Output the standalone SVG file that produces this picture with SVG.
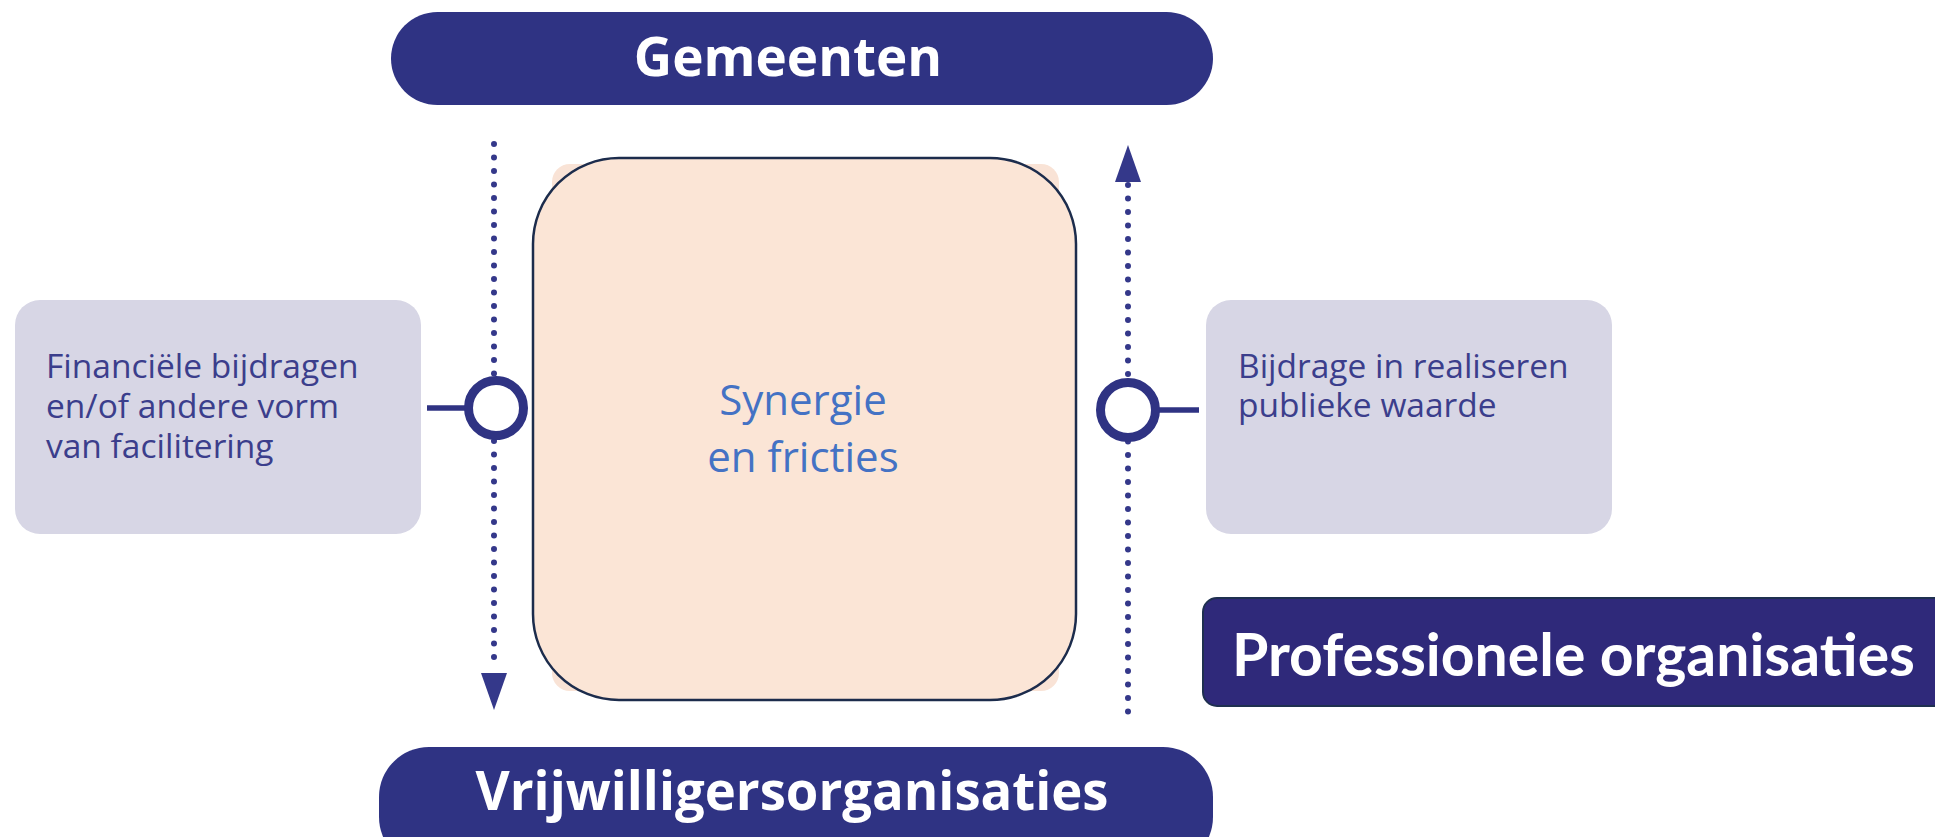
<svg xmlns="http://www.w3.org/2000/svg" width="1935" height="837" viewBox="0 0 1935 837">
<defs>
<style>
.pill{fill:#2f3383}
.pilltxt{font-family:"Open Sans","Noto Sans",sans-serif;font-weight:bold;font-size:53px;fill:#ffffff;text-anchor:middle}
.side{fill:#d7d6e5}
.sidetxt{font-family:"Open Sans","Noto Sans",sans-serif;font-size:33.5px;fill:#3b3e8c}
.dots{stroke:#34388a;stroke-width:6;stroke-linecap:round;stroke-dasharray:0 13.5;fill:none}
.ring{fill:#ffffff;stroke:#2f3383;stroke-width:9}
.stub{stroke:#2f3383;stroke-width:5.5}
.arrow{fill:#34388a}
.syn{font-family:"Open Sans","Noto Sans",sans-serif;font-size:42px;fill:#4472c4;text-anchor:middle}
</style>
</defs>
<rect width="1935" height="837" fill="#ffffff"/>
<g id="gemeenten">
<rect class="pill" x="391" y="12" width="822" height="93" rx="46.5"/>
<text class="pilltxt" x="788" y="76">Gemeenten</text>
</g>
<g id="vrijwilligersorganisaties">
<rect class="pill" x="379" y="747" width="834" height="120" rx="50"/>
<text class="pilltxt" x="792" y="810" textLength="633" lengthAdjust="spacingAndGlyphs">Vrijwilligersorganisaties</text>
</g>
<g id="financieel">
<rect class="side" x="15" y="300" width="406" height="234" rx="25"/>
<text class="sidetxt" x="46" y="378">Financiële bijdragen</text>
<text class="sidetxt" x="46" y="418">en/of andere vorm</text>
<text class="sidetxt" x="46" y="458">van facilitering</text>
</g>
<g id="bijdrage">
<rect class="side" x="1206" y="300" width="406" height="234" rx="25"/>
<text class="sidetxt" x="1238" y="378">Bijdrage in realiseren</text>
<text class="sidetxt" x="1238" y="417">publieke waarde</text>
</g>
<g id="synergie">
<rect x="552" y="164" width="507" height="527" rx="18" fill="#f9e3d6"/>
<rect x="533" y="158" width="543" height="542" rx="86" fill="#fbe5d6" stroke="#1c2c4c" stroke-width="2.5"/>
<text class="syn" x="803" y="415">Synergie</text>
<text class="syn" x="803" y="472">en fricties</text>
</g>
<g id="professionele">
<rect x="1203" y="598" width="760" height="108" rx="14" fill="#2f297a" stroke="#1f3050" stroke-width="2"/>
<text x="1232" y="676" font-family="Lato,'Open Sans',sans-serif" font-weight="bold" font-size="60" fill="#ffffff" textLength="683" lengthAdjust="spacingAndGlyphs">Professionele organisaties</text>
</g>
<g id="connectors">
<line class="dots" x1="494" y1="144" x2="494" y2="670"/>
<polygon class="arrow" points="481,673 507,673 494,710"/>
<line class="stub" x1="427" y1="408" x2="468" y2="408"/>
<circle class="ring" cx="496" cy="408" r="27.5"/>
<line class="dots" x1="1128" y1="185" x2="1128" y2="712"/>
<polygon class="arrow" points="1115,182 1141,182 1128,145"/>
<line class="stub" x1="1156" y1="410" x2="1199" y2="410"/>
<circle class="ring" cx="1128" cy="410" r="27.5"/>
</g>
</svg>
